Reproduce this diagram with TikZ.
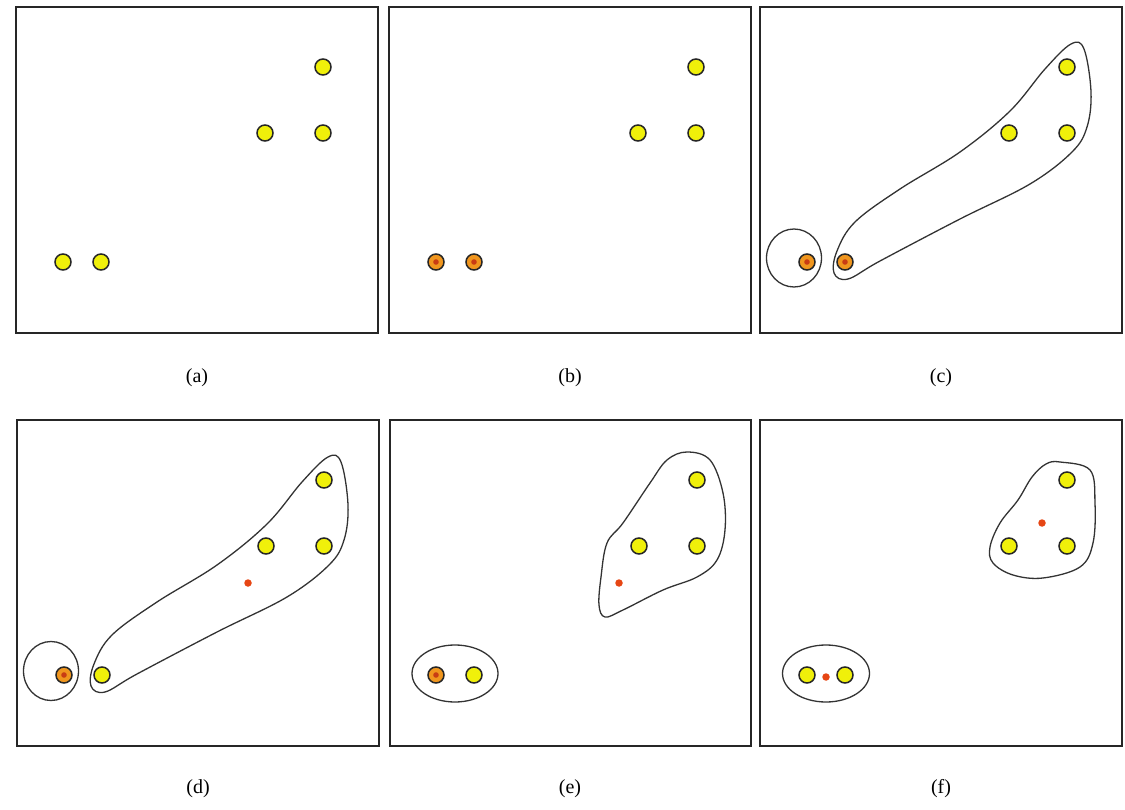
\documentclass[tikz,border=0pt]{standalone}
\usepackage{fontspec}
\setmainfont{Liberation Serif}
\definecolor{ptyellow}{RGB}{240,240,10}
\definecolor{ptorange}{RGB}{240,150,30}
\definecolor{ptred}{RGB}{200,60,20}
\definecolor{cenred}{RGB}{230,70,20}
\begin{document}
\begin{tikzpicture}[x=1pt,y=-1pt,
  panel/.style={draw=black!85,line width=1.5pt},
  pt/.style={circle,draw=black!85,line width=1.5pt,fill=ptyellow,minimum size=16pt,inner sep=0pt},
  opt/.style={pt,fill=ptorange,path picture={\fill[ptred] (path picture bounding box.center) circle (2.8pt);}},
  cen/.style={circle,fill=cenred,minimum size=7.5pt,inner sep=0pt},
  blob/.style={draw=black!80,line width=1.3pt},
  lab/.style={font=\fontsize{20}{24}\selectfont}]
\useasboundingbox (0,0) rectangle (1125,810);
% ---- (a)
\begin{scope}[shift={(16,7)}]
  \draw[panel] (0,0) rectangle (362,326);
  \node[pt] (a1) at (47,255) {};
  \node[pt] (a2) at (85,255) {};
  \node[pt] (a3) at (249,126) {};
  \node[pt] (a4) at (307,126) {};
  \node[pt] (a5) at (307,60) {};
  \node[lab] (la) at (181,371) {(a)};
\end{scope}
% ---- (b)
\begin{scope}[shift={(389,7)}]
  \draw[panel] (0,0) rectangle (362,326);
  \node[opt] (b1) at (47,255) {};
  \node[opt] (b2) at (85,255) {};
  \node[pt] (b3) at (249,126) {};
  \node[pt] (b4) at (307,126) {};
  \node[pt] (b5) at (307,60) {};
  \node[lab] (lb) at (181,371) {(b)};
\end{scope}
% ---- (c)
\begin{scope}[shift={(760,7)}]
  \draw[panel] (0,0) rectangle (362,326);
  \draw[blob] (34,251) ellipse [x radius=27.5,y radius=29];
  \draw[blob] plot[smooth cycle,tension=0.6] coordinates {(74,266) (77,244) (95,215) (140,182) (200,145) (250,104) (285,62) (311,37) (324,42) (331,85) (327,120) (312,145) (270,177) (200,212) (120,254) (88,272)};
  \node[opt] (c1) at (47,255) {};
  \node[opt] (c2) at (85,255) {};
  \node[pt] (c3) at (249,126) {};
  \node[pt] (c4) at (307,126) {};
  \node[pt] (c5) at (307,60) {};
  \node[lab] (lc) at (181,371) {(c)};
\end{scope}
% ---- (d)
\begin{scope}[shift={(17,420)}]
  \draw[panel] (0,0) rectangle (362,326);
  \draw[blob] (34,251) ellipse [x radius=27.5,y radius=29.5];
  \draw[blob] plot[smooth cycle,tension=0.6] coordinates {(74,266) (77,244) (95,215) (140,182) (200,145) (250,104) (285,62) (311,37) (324,42) (331,85) (327,120) (312,145) (270,177) (200,212) (120,254) (88,272)};
  \node[opt] (d1) at (47,255) {};
  \node[pt] (d2) at (85,255) {};
  \node[pt] (d3) at (249,126) {};
  \node[pt] (d4) at (307,126) {};
  \node[pt] (d5) at (307,60) {};
  \node[cen] (dc) at (231,163) {};
  \node[lab] (ld) at (181,369) {(d)};
\end{scope}
% ---- (e)
\begin{scope}[shift={(390,420)}]
  \draw[panel] (0,0) rectangle (361,326);
  \draw[blob] (65,253.5) ellipse [x radius=43,y radius=28.5];
  \draw[blob] plot[smooth cycle,tension=0.6] coordinates {(297,32) (320,40) (333,73) (335,110) (327,140) (307,157) (273,170) (233,190) (215,197) (209,185) (211,157) (217,123) (233,103) (260,63) (277,40)};
  \node[opt] (e1) at (46,255) {};
  \node[pt] (e2) at (84,255) {};
  \node[pt] (e3) at (249,126) {};
  \node[pt] (e4) at (307,126) {};
  \node[pt] (e5) at (307,60) {};
  \node[cen] (ec) at (229,163) {};
  \node[lab] (le) at (180,369) {(e)};
\end{scope}
% ---- (f)
\begin{scope}[shift={(760,420)}]
  \draw[panel] (0,0) rectangle (362,326);
  \draw[blob] (66,253.5) ellipse [x radius=43.5,y radius=28.5];
  \draw[blob] plot[smooth cycle,tension=0.6] coordinates {(300,42) (330,50) (335,83) (333,123) (320,147) (283,158) (253,155) (233,143) (230,127) (240,103) (258,80) (272,57) (286,44)};
  \node[pt] (f1) at (47,255) {};
  \node[pt] (f2) at (85,255) {};
  \node[pt] (f3) at (249,126) {};
  \node[pt] (f4) at (307,126) {};
  \node[pt] (f5) at (307,60) {};
  \node[cen] (fc1) at (282,103) {};
  \node[cen] (fc2) at (66,257) {};
  \node[lab] (lf) at (181,369) {(f)};
\end{scope}
\end{tikzpicture}
\end{document}
